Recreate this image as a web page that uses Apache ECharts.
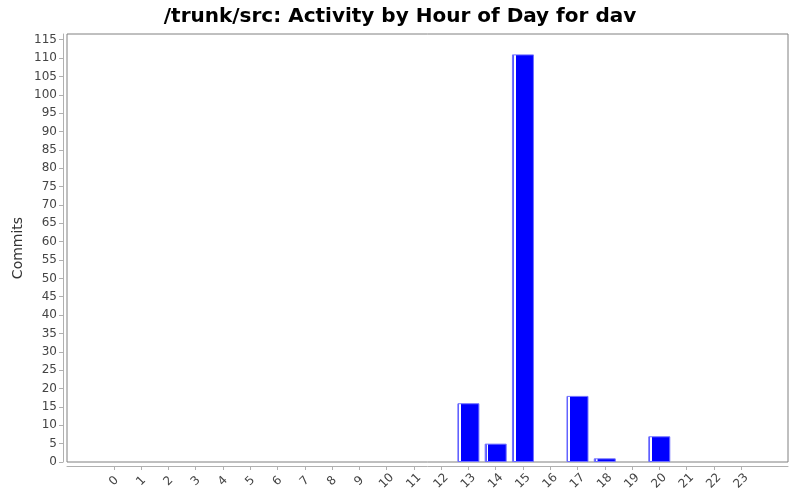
<!DOCTYPE html>
<html>
<head>
<meta charset="utf-8">
<script src="https://cdn.jsdelivr.net/npm/echarts@6/dist/echarts.min.js"></script>
<style>html,body{margin:0;padding:0;background:#fff}#c{width:800px;height:500px}</style>
</head>
<body>
<div id="c"></div>
<script>
const hours = [0,1,2,3,4,5,6,7,8,9,10,11,12,13,14,15,16,17,18,19,20,21,22,23];
const commits = [0,0,0,0,0,0,0,0,0,0,0,0,0,16,5,111,0,18,1,0,7,0,0,0];
const yTicks = [0,5,10,15,20,25,30,35,40,45,50,55,60,65,70,75,80,85,90,95,100,105,110,115];
const titleText = '/trunk/src: Activity by Hour of Day for dav';
const yName = 'Commits';

const chart = echarts.init(document.getElementById('c'), null, {renderer: 'canvas'});
const font = 'DejaVu Sans';
const barFill = new echarts.graphic.LinearGradient(0, 0, 1, 0, [
  {offset: 0, color: '#5a5aff'},
  {offset: 0.09, color: '#5a5aff'},
  {offset: 0.091, color: '#ffffff'},
  {offset: 0.17, color: '#ffffff'},
  {offset: 0.171, color: '#0000ff'},
  {offset: 1, color: '#0000ff'}
]);
chart.setOption({
  backgroundColor: '#ffffff',
  animation: false,
  title: {
    text: titleText, left: 'center', top: 2,
    textStyle: {fontFamily: font, fontSize: 20, fontWeight: 'bold', color: '#000'}
  },
  grid: {left: 67, right: 12, top: 34, bottom: 38, show: true, borderColor: '#808080', borderWidth: 1, backgroundColor: '#fff'},
  xAxis: {
    type: 'value', min: -1.72, max: 24.72, offset: 4,
    splitLine: {show: false},
    axisLine: {show: true, onZero: false, lineStyle: {color: '#b0b0b0'}},
    axisTick: {show: true, length: 4, lineStyle: {color: '#b0b0b0'}, customValues: hours},
    axisLabel: {customValues: hours, rotate: 45, align: 'center', verticalAlign: 'middle', margin: 15, fontFamily: font, fontSize: 12, color: '#444'}
  },
  yAxis: {
    type: 'value', min: 0, max: 116.55, offset: 4,
    name: yName, nameLocation: 'middle', nameGap: 38, nameMoveOverlap: false,
    nameTextStyle: {fontFamily: font, fontSize: 14, color: '#333'},
    splitLine: {show: false},
    axisLine: {show: true, onZero: false, lineStyle: {color: '#b0b0b0'}},
    axisTick: {show: true, length: 4, lineStyle: {color: '#b0b0b0'}, customValues: yTicks},
    axisLabel: {customValues: yTicks, margin: 6, fontFamily: font, fontSize: 12, color: '#444'}
  },
  series: [{
    type: 'bar',
    barWidth: 22,
    data: hours.map((h, i) => commits[i] > 0 ? [h, commits[i]] : [h, null]),
    itemStyle: {color: barFill, borderColor: '#7070ff', borderWidth: 1}
  }]
});
</script>
</body>
</html>
